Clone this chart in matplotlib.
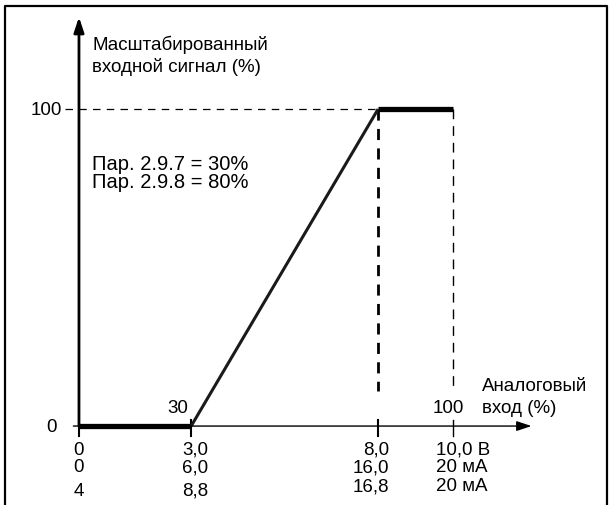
import matplotlib.pyplot as plt
from matplotlib.lines import Line2D

plt.rcParams['font.family'] = ['Liberation Sans', 'DejaVu Sans']

# данные характеристики
volts = [0.0, 3.0, 8.0, 10.0]
scaled = [0, 0, 100, 100]
row_v = ['0', '3,0', '8,0', '10,0 В']
row_ma = ['0', '6,0', '16,0', '20 мА']
row_4ma = ['4', '8,8', '16,8', '20 мА']
pct_ticks = ['30', '100']
par_lines = ['Пар. 2.9.7 = 30%', 'Пар. 2.9.8 = 80%']

fig = plt.figure(figsize=(6.1, 5.06), dpi=100)
ax = fig.add_axes([0, 0, 1, 1])
ax.set_xlim(-2.112, 14.2)
ax.set_ylim(-24.9, 134.7)
ax.axis('off')

# рамка
fig.add_artist(Line2D([0.008, 0.008, 0.995, 0.995], [0, 0.986, 0.986, 0],
                      transform=fig.transFigure, color='black', lw=1.6))

# оси со стрелками
ax.annotate('', xy=(0, 129), xytext=(0, 0),
            arrowprops=dict(arrowstyle='-|>,head_length=0.9,head_width=0.3',
                            color='black', lw=2, shrinkA=0, shrinkB=0))
ax.annotate('', xy=(12.1, 0), xytext=(-0.15, 0),
            arrowprops=dict(arrowstyle='-|>,head_length=0.9,head_width=0.3',
                            color='black', lw=1, shrinkA=0, shrinkB=0))

# засечки
ax.plot([0, 0], [0, -3], color='black', lw=1.5)
for v in volts[1:]:
    ax.plot([v, v], [2, -3], color='black', lw=1.5 if v != 10.0 else 1)

# пунктир
ax.plot([-0.37, volts[2]], [100, 100], color='black', lw=0.9,
        dashes=(6, 5))
ax.plot([volts[2], volts[2]], [100, 11], color='black', lw=2,
        dashes=(4, 3))
ax.plot([volts[3], volts[3]], [100, 11], color='black', lw=1,
        dashes=(7, 5))

# характеристика
ax.plot(volts[:2], scaled[:2], color='black', lw=3.8, solid_capstyle='butt')
ax.plot(volts[1:3], scaled[1:3], color='#1a1a1a', lw=2.2,
        solid_capstyle='butt')
ax.plot(volts[2:], scaled[2:], color='black', lw=3.8, solid_capstyle='butt')

fs = 13.5
ax.text(0.35, 120.5, 'Масштабированный', fontsize=fs, va='center')
ax.text(0.35, 113.5, 'входной сигнал (%)', fontsize=fs, va='center')
ax.text(-0.45, 100, '100', fontsize=fs, va='center', ha='right')
ax.text(-0.6, 0, '0', fontsize=fs, va='center', ha='right')
ax.text(0.35, 80.0, '\n'.join(par_lines), fontsize=14.5, va='center',
        linespacing=0.92)
ax.text(2.65, 6.0, pct_ticks[0], fontsize=fs, va='center', ha='center')
ax.text(10.3, 6.0, pct_ticks[1], fontsize=fs, va='center', ha='right')
ax.text(10.78, 12.9, 'Аналоговый', fontsize=fs, va='center')
ax.text(10.78, 6.0, 'вход (%)', fontsize=fs, va='center')

# подписи под осью
rows = [(row_v, -7.3, -7.3), (row_ma, -12.9, -12.9), (row_4ma, -20.3, -18.9)]
for labels, yl, yr in rows:
    ax.text(0, yl, labels[0], fontsize=fs, va='center', ha='center')
    ax.text(3.1, yl, labels[1], fontsize=fs, va='center', ha='center')
    ax.text(8.3, yr, labels[2], fontsize=fs, va='center', ha='right')
    ax.text(9.55, yr, labels[3], fontsize=fs, va='center', ha='left')

fig.savefig('out.png', dpi=100)
